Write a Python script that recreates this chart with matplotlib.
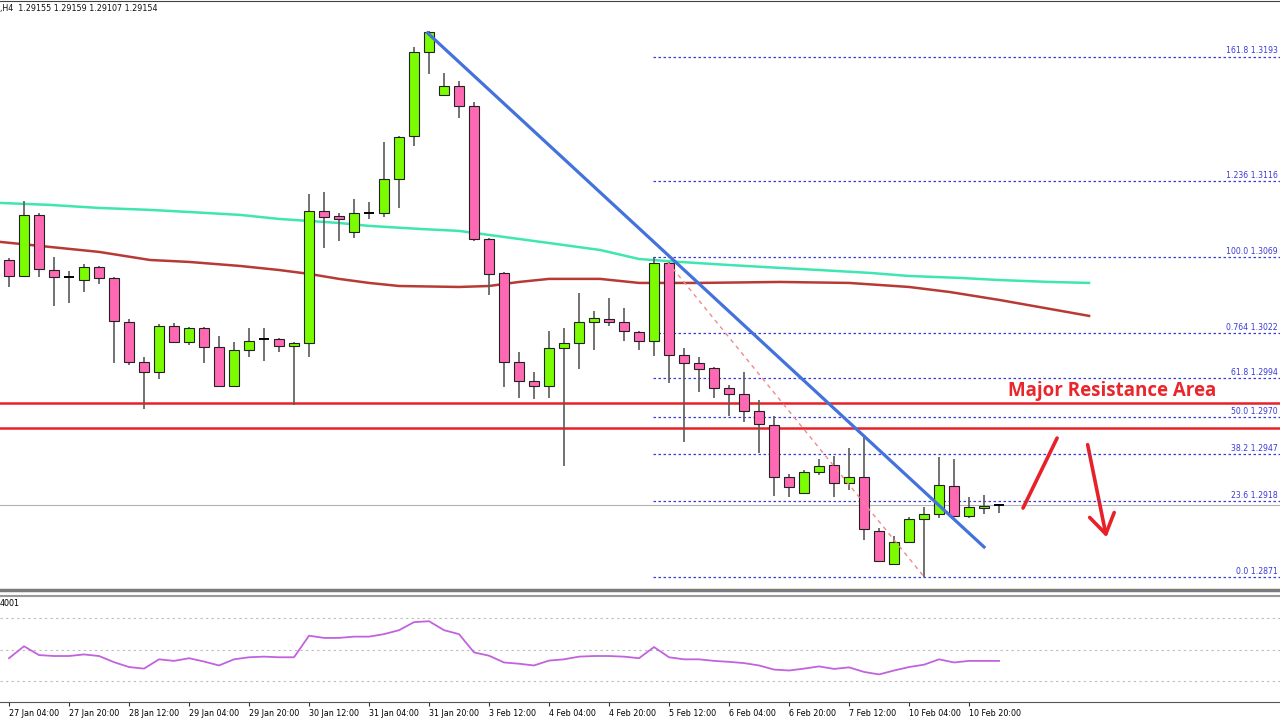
import numpy as np
import matplotlib
matplotlib.use("Agg")
import matplotlib.pyplot as plt
from matplotlib.patches import FancyArrowPatch

# H4 candles, bar index 0..66
opens = [1.30672, 1.30573, 1.30951, 1.30610, 1.30567, 1.30548, 1.30629, 1.30561, 1.30288, 1.30041,
         1.29979, 1.30264, 1.30165, 1.30251, 1.30134, 1.29892, 1.30115, 1.30183, 1.30183, 1.30140,
         1.30158, 1.30976, 1.30945, 1.30846, 1.30963, 1.30963, 1.31174, 1.31440, 1.31960, 1.31694,
         1.31749, 1.31625, 1.30802, 1.30592, 1.30041, 1.29923, 1.29892, 1.30128, 1.30158, 1.30288,
         1.30307, 1.30288, 1.30227, 1.30171, 1.30654, 1.30084, 1.30035, 1.30004, 1.29880, 1.29843,
         1.29738, 1.29651, 1.29329, 1.29230, 1.29360, 1.29403, 1.29292, 1.29329, 1.28995, 1.28790,
         1.28927, 1.29069, 1.29100, 1.29273, 1.29088, 1.29137, 1.29155]
highs = [1.30685, 1.31037, 1.30963, 1.30691, 1.30604, 1.30647, 1.30635, 1.30565, 1.30307, 1.30072,
         1.30276, 1.30282, 1.30258, 1.30258, 1.30202, 1.30165, 1.30251, 1.30251, 1.30189, 1.30165,
         1.31081, 1.31093, 1.30963, 1.31050, 1.31031, 1.31403, 1.31440, 1.31991, 1.32090, 1.31830,
         1.31780, 1.31650, 1.30808, 1.30598, 1.30103, 1.29979, 1.30233, 1.30251, 1.30468, 1.30357,
         1.30437, 1.30375, 1.30233, 1.30691, 1.30660, 1.30128, 1.30072, 1.30010, 1.29898, 1.29979,
         1.29806, 1.29707, 1.29348, 1.29372, 1.29440, 1.29459, 1.29509, 1.29577, 1.29013, 1.28964,
         1.29081, 1.29143, 1.29453, 1.29440, 1.29205, 1.29218, 1.29159]
lows = [1.30505, 1.30567, 1.30567, 1.30387, 1.30406, 1.30474, 1.30524, 1.30035, 1.30022, 1.29750,
        1.29936, 1.30158, 1.30146, 1.30035, 1.29886, 1.29886, 1.30072, 1.30047, 1.30103, 1.29775,
        1.30072, 1.30747, 1.30790, 1.30808, 1.30926, 1.30938, 1.30994, 1.31378, 1.31824, 1.31694,
        1.31551, 1.30790, 1.30456, 1.29886, 1.29818, 1.29812, 1.29818, 1.29397, 1.29998, 1.30115,
        1.30264, 1.30171, 1.30115, 1.30078, 1.29911, 1.29546, 1.29855, 1.29818, 1.29707, 1.29669,
        1.29478, 1.29211, 1.29205, 1.29230, 1.29341, 1.29205, 1.29249, 1.28939, 1.28803, 1.28790,
        1.28927, 1.28712, 1.29075, 1.29085, 1.29075, 1.29100, 1.29107]
closes = [1.30573, 1.30951, 1.30617, 1.30567, 1.30566, 1.30629, 1.30561, 1.30295, 1.30041, 1.29979,
          1.30264, 1.30165, 1.30251, 1.30134, 1.29892, 1.30115, 1.30171, 1.30182, 1.30140, 1.30158,
          1.30976, 1.30938, 1.30926, 1.30963, 1.30964, 1.31174, 1.31434, 1.31960, 1.32084, 1.31749,
          1.31625, 1.30802, 1.30586, 1.30041, 1.29923, 1.29892, 1.30128, 1.30158, 1.30288, 1.30313,
          1.30288, 1.30233, 1.30171, 1.30654, 1.30084, 1.30035, 1.29998, 1.29880, 1.29843, 1.29738,
          1.29657, 1.29329, 1.29267, 1.29360, 1.29397, 1.29292, 1.29329, 1.29007, 1.28809, 1.28927,
          1.29069, 1.29100, 1.29279, 1.29088, 1.29143, 1.29149, 1.29154]

# moving averages (drawn shifted forward past the last bar), read at bar positions
fast_bars = [-0.6, 2.7, 6, 9.4, 12, 15.4, 18, 22, 24, 27.4, 30, 32, 34, 36, 39.4, 42, 44.7,
             48, 51.4, 54, 57.4, 60, 63.4, 66, 69.4, 72]
ma_fast = [1.31025, 1.31013, 1.30994, 1.30982, 1.30969, 1.30951, 1.30926, 1.30901, 1.30883,
           1.30864, 1.30852, 1.30827, 1.30802, 1.30777, 1.30734, 1.30678, 1.30660, 1.30641,
           1.30623, 1.30610, 1.30592, 1.30573, 1.30561, 1.30548, 1.30536, 1.30530]
slow_bars = [-0.6, 2.7, 6, 9.4, 12, 15.4, 18, 20, 22, 24, 26, 30, 32, 34, 36, 39.4, 42, 46,
             51.4, 56, 60, 62.7, 66, 69.4, 72]
ma_slow = [1.30784, 1.30753, 1.30722, 1.30672, 1.30660, 1.30635, 1.30610, 1.30586, 1.30555,
           1.30530, 1.30511, 1.30505, 1.30511, 1.30536, 1.30555, 1.30555, 1.30530, 1.30530,
           1.30536, 1.30530, 1.30505, 1.30474, 1.30425, 1.30369, 1.30326]

rsi = [44.5, 52.1, 46.5, 45.9, 45.9, 46.9, 45.9, 42.0, 38.9, 37.9,
       43.8, 42.8, 44.5, 42.4, 39.9, 43.8, 45.1, 45.5, 45.1, 45.1,
       58.8, 57.4, 57.4, 58.2, 58.2, 59.8, 62.3, 67.4, 68.0, 62.3,
       59.8, 48.2, 46.1, 41.8, 41.0, 39.9, 43.0, 43.8, 45.5, 45.9,
       45.9, 45.5, 44.5, 51.6, 45.1, 43.8, 43.8, 42.8, 42.2, 41.4,
       39.9, 37.3, 36.7, 37.9, 39.3, 37.7, 38.7, 35.8, 34.2, 36.7,
       38.9, 40.4, 43.8, 41.8, 42.8, 42.8, 42.8]

fib_levels = [1.3193, 1.3116, 1.3069, 1.3022, 1.2994, 1.2970, 1.2947, 1.2918, 1.2871]
fib_labels = ["161.8 1.3193", "1.236 1.3116", "100.0 1.3069", "0.764 1.3022", "61.8 1.2994",
              "50.0 1.2970", "38.2 1.2947", "23.6 1.2918", "0.0 1.2871"]
resistance = [1.29787, 1.29632]
bid = 1.29154

date_labels = ["27 Jan 04:00", "27 Jan 20:00", "28 Jan 12:00", "29 Jan 04:00", "29 Jan 20:00",
               "30 Jan 12:00", "31 Jan 04:00", "31 Jan 20:00", "3 Feb 12:00", "4 Feb 04:00",
               "4 Feb 20:00", "5 Feb 12:00", "6 Feb 04:00", "6 Feb 20:00", "7 Feb 12:00",
               "10 Feb 04:00", "10 Feb 20:00"]

o = np.array(opens); h = np.array(highs); l = np.array(lows); c = np.array(closes)
idx = np.arange(len(o))

fig = plt.figure(figsize=(12.8, 7.2), dpi=100)
fig.patch.set_facecolor("white")
ax = fig.add_axes([0, 0.1806, 1, 0.8181])
ax2 = fig.add_axes([0, 0.025, 1, 0.1472], sharex=ax)

xmin, xmax = -0.6, 84.73
ax.set_xlim(xmin, xmax)
ax.set_ylim(1.28630, 1.32275)

# bid line
ax.axhline(bid, color="#b4b4b4", lw=0.8, zorder=1)

# moving averages
ax.plot(fast_bars, ma_fast, color="#3fe6b2", lw=1.8, zorder=2)
ax.plot(slow_bars, ma_slow, color="#b83a35", lw=1.8, zorder=2)

# candles
ax.vlines(idx, l, h, color="#5a5a5a", lw=1.2, zorder=3)
doji = np.abs(c - o) < 0.00003
up = (c > o) & ~doji
dn = (c < o) & ~doji
ax.bar(idx[up], (c - o)[up], bottom=o[up], width=0.65, color="#7cfc00",
       edgecolor="#222222", lw=0.8, zorder=4)
ax.bar(idx[dn], (o - c)[dn], bottom=c[dn], width=0.65, color="#ff69b4",
       edgecolor="#222222", lw=0.8, zorder=4)
ax.hlines(o[doji], idx[doji] - 0.33, idx[doji] + 0.33, color="black", lw=1.4, zorder=4)

# fibonacci levels
for lev, lab in zip(fib_levels, fib_labels):
    ax.plot([42.9, xmax], [lev, lev], color="#3a3ad8", lw=0.9, ls=(0, (2, 2)), zorder=2)
    ax.text(84.6, lev + 0.00008, lab, ha="right", va="bottom", fontsize=5.6,
            color="#3a3ad8")

# resistance zone
for r in resistance:
    ax.axhline(r, color="#e82128", lw=1.8, zorder=2)
ax.text(66.6, 1.29863, "Major Resistance Area", family="Open Sans", fontweight="bold",
        fontsize=13.5, color="#e8262c", ha="left", va="center")

# trend line and the dotted swing line
ax.plot([27.9, 65.0], [1.32077, 1.28896], color="#4472dd", lw=2.3, zorder=5)
ax.plot([43.9, 61.0], [1.30660, 1.28712], color="#f08a8a", lw=1.0, ls=(0, (3, 3)), zorder=5)

# hand-drawn arrows
ax.plot([67.6, 69.87], [1.29137, 1.29570], color="#e8202a", lw=2.6, solid_capstyle="round")
arr = FancyArrowPatch((71.87, 1.29546), (73.2, 1.28939), arrowstyle="->,head_length=0.7,head_width=0.45",
                      mutation_scale=20, color="#e8202a", lw=2.6)
ax.add_patch(arr)

ax.text(0.0, 0.994, ",H4  1.29155 1.29159 1.29107 1.29154", transform=ax.transAxes,
        fontsize=5.8, va="top", ha="left", color="#111111")

for side in ["left", "right"]:
    ax.spines[side].set_visible(False)
ax.spines["top"].set_color("#444444")
ax.spines["bottom"].set_color("#7a7a7a")
ax.spines["bottom"].set_linewidth(2.5)
ax.tick_params(left=False, labelleft=False, bottom=False, labelbottom=False)

# RSI panel
ax2.set_ylim(16.7, 84.0)
for g in [70, 50, 30]:
    ax2.axhline(g, color="#bbbbbb", lw=0.8, ls=(0, (2, 3)))
ax2.plot(idx, rsi, color="#c163dd", lw=1.3)
ax2.text(0.0, 0.97, "4001", transform=ax2.transAxes, fontsize=5.8, va="top", ha="left")
for side in ["left", "right"]:
    ax2.spines[side].set_visible(False)
ax2.spines["top"].set_color("#9a9a9a")
ax2.spines["top"].set_linewidth(1.5)
ax2.spines["bottom"].set_color("#555555")
ax2.tick_params(left=False, labelleft=False)
ax2.set_xticks(np.arange(0, 65, 4))
ax2.set_xticklabels(date_labels, fontsize=5.8)
ax2.tick_params(axis="x", direction="out", length=3, pad=2, color="#333333")
for t in ax2.get_xticklabels():
    t.set_ha("left")

fig.savefig("out.png", dpi=100)
